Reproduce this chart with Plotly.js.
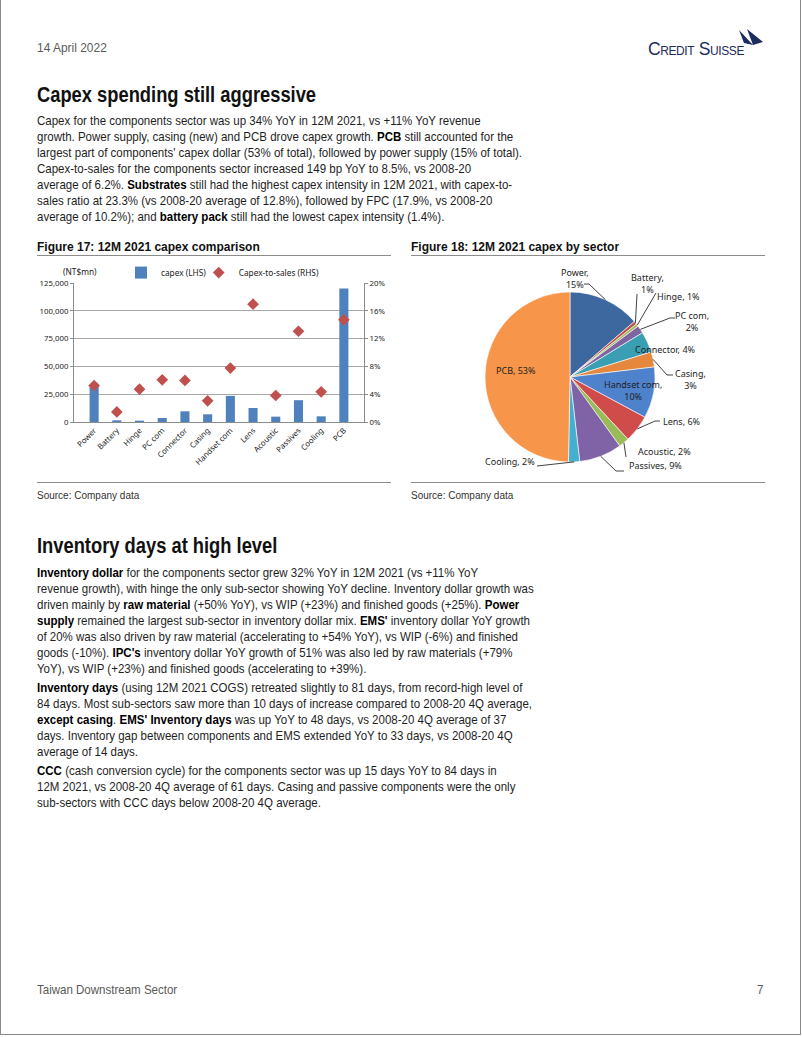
<!DOCTYPE html>
<html><head><meta charset="utf-8">
<script src="https://cdn.plot.ly/plotly-3.0.1.min.js"></script>
<style>
html,body{margin:0;padding:0;background:#fff;}
#page{position:relative;width:802px;height:1037px;overflow:hidden;font-family:"Liberation Sans",Arial,sans-serif;color:#1e1e1e;}
#frame{position:absolute;left:0;top:-1px;width:799px;height:1035px;border:1px solid #8a8a8a;border-top:none;}
.t{position:absolute;white-space:nowrap;transform-origin:0 0;}
.date{left:37px;top:40px;font-size:13px;color:#5a5a5a;transform:scaleX(0.92);}
.logo{left:648px;top:39px;font-family:"Liberation Sans",Arial,sans-serif;font-variant:small-caps;font-size:17.5px;color:#1c2c5c;letter-spacing:-0.4px;}
.h{left:37px;font-size:22px;font-weight:bold;color:#111;transform:scaleX(0.833);}
.p{left:37px;font-size:13px;line-height:16px;color:#1e1e1e;transform:scaleX(0.885);}
.p b{color:#000;}
.ft{left:37px;top:240px;font-family:"Liberation Sans",Arial,sans-serif;font-size:12px;font-weight:bold;color:#111;}
.rule{position:absolute;height:0;border-top:1px solid #8c8c8c;}
.src{top:490px;font-family:"Liberation Sans",Arial,sans-serif;font-size:10px;color:#333;}
.foot{top:982px;font-size:13px;color:#5a5a5a;transform:scaleX(0.886);}
#bar{position:absolute;left:36px;top:262px;width:360px;height:220px;}
#pie{position:absolute;left:410px;top:262px;width:360px;height:220px;}
</style>
</head><body>
<div id="page">
<div id="frame"></div>
<div class="t date">14 April 2022</div>
<div class="t logo">Credit Suisse</div>
<svg style="position:absolute;left:738px;top:29px" width="28" height="20" viewBox="0 0 28 20">
<path d="M1,1 L15,16 L6,14 Z M9,0 L25,13 L15,16 Z" fill="#1c2c5c"/>
</svg>
<div class="t h" style="top:82px">Capex spending still aggressive</div>
<div class="t p" style="top:113px">Capex for the components sector was up 34% YoY in 12M 2021, vs +11% YoY revenue<br>growth. Power supply, casing (new) and PCB drove capex growth. <b>PCB</b> still accounted for the<br>largest part of components' capex dollar (53% of total), followed by power supply (15% of total).<br>Capex-to-sales for the components sector increased 149 bp YoY to 8.5%, vs 2008-20<br>average of 6.2%. <b>Substrates</b> still had the highest capex intensity in 12M 2021, with capex-to-<br>sales ratio at 23.3% (vs 2008-20 average of 12.8%), followed by FPC (17.9%, vs 2008-20<br>average of 10.2%); and <b>battery pack</b> still had the lowest capex intensity (1.4%).</div>

<div class="t ft">Figure 17: 12M 2021 capex comparison</div>
<div class="t ft" style="left:411px">Figure 18: 12M 2021 capex by sector</div>
<div class="rule" style="left:37px;top:255px;width:354px"></div>
<div class="rule" style="left:411px;top:255px;width:354px"></div>
<div id="bar"></div>
<div id="pie"></div>
<div class="rule" style="left:37px;top:482px;width:354px"></div>
<div class="rule" style="left:411px;top:482px;width:354px"></div>
<div class="t src" style="left:37px">Source: Company data</div>
<div class="t src" style="left:411px">Source: Company data</div>

<div class="t h" style="top:533px">Inventory days at high level</div>
<div class="t p" style="top:565px"><b>Inventory dollar</b> for the components sector grew 32% YoY in 12M 2021 (vs +11% YoY<br>revenue growth), with hinge the only sub-sector showing YoY decline. Inventory dollar growth was<br>driven mainly by <b>raw material</b> (+50% YoY), vs WIP (+23%) and finished goods (+25%). <b>Power</b><br><b>supply</b> remained the largest sub-sector in inventory dollar mix. <b>EMS'</b> inventory dollar YoY growth<br>of 20% was also driven by raw material (accelerating to +54% YoY), vs WIP (-6%) and finished<br>goods (-10%). <b>IPC's</b> inventory dollar YoY growth of 51% was also led by raw materials (+79%<br>YoY), vs WIP (+23%) and finished goods (accelerating to +39%).</div>
<div class="t p" style="top:680px"><b>Inventory days</b> (using 12M 2021 COGS) retreated slightly to 81 days, from record-high level of<br>84 days. Most sub-sectors saw more than 10 days of increase compared to 2008-20 4Q average,<br><b>except casing</b>. <b>EMS' Inventory days</b> was up YoY to 48 days, vs 2008-20 4Q average of 37<br>days. Inventory gap between components and EMS extended YoY to 33 days, vs 2008-20 4Q<br>average of 14 days.</div>
<div class="t p" style="top:763px"><b>CCC</b> (cash conversion cycle) for the components sector was up 15 days YoY to 84 days in<br>12M 2021, vs 2008-20 4Q average of 61 days. Casing and passive components were the only<br>sub-sectors with CCC days below 2008-20 4Q average.</div>

<div class="t foot" style="left:37px">Taiwan Downstream Sector</div>
<div class="t foot" style="left:757px">7</div>
</div>

<script>
// ---- data ----
const categories = ['Power','Battery','Hinge','PC com','Connector','Casing','Handset com','Lens','Acoustic','Passives','Cooling','PCB'];
const capex = [33000,1500,1200,3600,9600,6900,23500,12600,4800,19600,5100,120000];
const capexToSales = [0.0525,0.0145,0.0472,0.0607,0.0598,0.0304,0.0776,0.1696,0.0381,0.1306,0.0434,0.147];
const pieShareLabels = ['15%','1%','1%','2%','4%','3%','10%','6%','2%','9%','2%','53%'];
const leftTicks = [0,25000,50000,75000,100000,125000];
const rightTicks = [0,0.04,0.08,0.12,0.16,0.20];

// ---- styles ----
const chartFont = 'Noto Sans, Open Sans, sans-serif';
const pieColors = ['#3c689f','#c0504d','#9bbb59','#8064a2','#3a9fb3','#e5873c','#4f82cc','#cf4c4a','#9bbb59','#8062a6','#44afd0','#f7954a'];

// ---- Figure 17 ----
const barTraces = [
  {type:'bar', x:categories, y:capex, name:'capex (LHS)', marker:{color:'#4f81bd'}, yaxis:'y', hoverinfo:'skip', legend:'legend', showlegend:true},
  {type:'scatter', mode:'markers', x:categories, y:capexToSales, name:'Capex-to-sales (RHS)', yaxis:'y2',
   marker:{symbol:'diamond', size:9, color:'#c0504d'}, hoverinfo:'skip', legend:'legend2', showlegend:true}
];
const tf = {family:chartFont, size:7.8, color:'#222'};
const legFont = {family:chartFont, size:8.3, color:'#222'};
const barLayout = {
  width:360, height:220, margin:{l:38, r:32, t:21, b:60, autoexpand:false},
  paper_bgcolor:'#fff', plot_bgcolor:'#fff', bargap:0.6, showlegend:true,
  font:{family:chartFont, color:'#222'},
  xaxis:{type:'category', tickangle:-45, tickfont:tf, showline:true, linecolor:'#8c8c8c', ticks:'', automargin:false, showgrid:false},
  yaxis:{range:[0,125000], tickvals:leftTicks, tickformat:',d', showgrid:true, gridcolor:'#a8a8a8', gridwidth:1,
         showline:true, linecolor:'#8c8c8c', ticks:'outside', ticklen:3, tickcolor:'#8c8c8c', zeroline:false, tickfont:tf, automargin:false},
  yaxis2:{overlaying:'y', side:'right', range:[0,0.2], tickvals:rightTicks, tickformat:'.0%', showgrid:false,
          showline:true, linecolor:'#8c8c8c', ticks:'outside', ticklen:3, tickcolor:'#8c8c8c', zeroline:false, tickfont:tf, automargin:false},
  legend:{orientation:'h', x:0.162, y:1.075, xanchor:'left', yanchor:'middle', font:legFont, bgcolor:'rgba(0,0,0,0)', itemwidth:30, visible:true},
  legend2:{orientation:'h', x:0.43, y:1.075, xanchor:'left', yanchor:'middle', font:legFont, bgcolor:'rgba(0,0,0,0)', itemwidth:30, visible:true},
  annotations:[{text:'(NT$mn)', xref:'paper', yref:'paper', x:-0.045, y:1.08, xanchor:'left', yanchor:'middle',
                showarrow:false, font:legFont}]
};
Plotly.newPlot('bar', barTraces, barLayout, {staticPlot:true, displayModeBar:false});

// ---- Figure 18 ----
const PIE = {left:410, top:262, w:360, h:220, cx:570, cy:377, r:85};
const toPaper = (x,y) => [(x-PIE.left)/PIE.w, 1-(y-PIE.top)/PIE.h];
// label placement (page px) and leader-line bend/end points
const labelPlace = [
  {x:575, y:278, br:true,  path:[[589,284],[584,284]]},
  {x:647, y:283, br:true,  path:[[637,294]]},
  {x:678, y:297, br:false, path:[[656,293]]},
  {x:692, y:322, br:true,  path:[[670,318],[675,318]]},
  {x:665, y:349, br:false, path:null},
  {x:690, y:379, br:true,  path:[[667,375],[673,375]]},
  {x:633, y:390, br:true,  path:null},
  {x:682, y:421, br:false, path:[[655,421],[660,421]]},
  {x:664, y:451, br:false, path:[[626,457]]},
  {x:655, y:465, br:false, path:[[616,471],[624,471]]},
  {x:510, y:461, br:false, path:[[537,466]]},
  {x:516, y:370, br:false, path:null}
];
const total = capex.reduce((a,b)=>a+b,0);
let cum = 0;
const annotations = [], shapes = [];
categories.forEach((c,i)=>{
  const mid = (cum + capex[i]/2)/total*2*Math.PI;
  cum += capex[i];
  const tipX = PIE.cx + PIE.r*Math.sin(mid), tipY = PIE.cy - PIE.r*Math.cos(mid);
  const L = labelPlace[i];
  const [ax, ay] = toPaper(L.x, L.y);
  annotations.push({text: c + (L.br ? ',<br>' : ', ') + pieShareLabels[i], xref:'paper', yref:'paper', x:ax, y:ay,
    xanchor:'center', yanchor:'middle', align:'center', showarrow:false,
    font:{family:chartFont, size:9, color:'#1e1e1e'}});
  if (L.path) {
    const pts = [[tipX,tipY]].concat(L.path).map(p=>toPaper(p[0],p[1]));
    shapes.push({type:'path', xref:'paper', yref:'paper',
      path: pts.map((p,k)=>(k?'L':'M')+p[0].toFixed(4)+','+p[1].toFixed(4)).join(' '),
      line:{color:'#111', width:0.8}});
  }
});
const [dx0, dy1] = toPaper(PIE.cx-PIE.r, PIE.cy-PIE.r);
const [dx1, dy0] = toPaper(PIE.cx+PIE.r, PIE.cy+PIE.r);
const pieTrace = {type:'pie', labels:categories, values:capex, sort:false, direction:'clockwise', rotation:0,
  marker:{colors:pieColors, line:{color:'#ffffff', width:0.6}}, textinfo:'none', hoverinfo:'skip',
  domain:{x:[dx0,dx1], y:[dy0,dy1]}};
const pieLayout = {width:360, height:220, margin:{l:0,r:0,t:0,b:0}, showlegend:false,
  paper_bgcolor:'rgba(0,0,0,0)', annotations:annotations, shapes:shapes};
Plotly.newPlot('pie', [pieTrace], pieLayout, {staticPlot:true, displayModeBar:false});
</script>
</body></html>
